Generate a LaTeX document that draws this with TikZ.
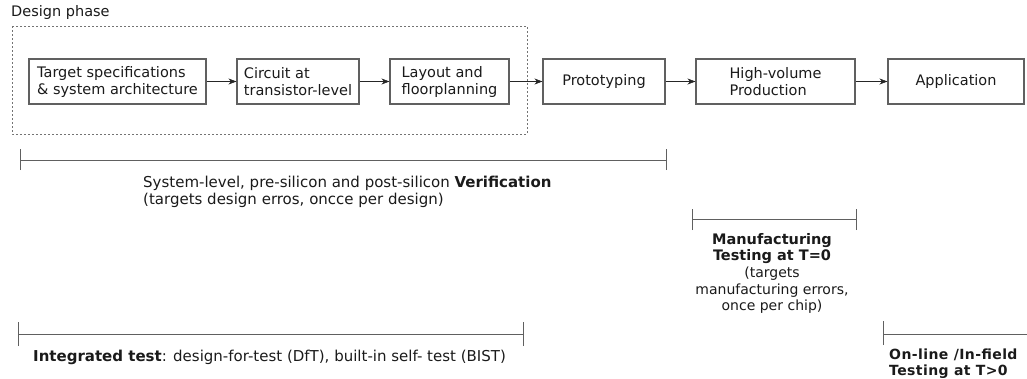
\documentclass[tikz,border=0pt]{standalone}
\usepackage{fontspec}
\setmainfont{DejaVu Sans}
\usetikzlibrary{arrows.meta}
\definecolor{boxline}{HTML}{606060}
\definecolor{txt}{HTML}{1A1A1A}
\tikzset{
  stagebox/.style={draw=boxline, line width=1.1pt, inner sep=0pt, minimum height=45pt, align=left, text=txt,
    font=\fontsize{14.5}{17}\selectfont},
  flow/.style={draw=black!85, line width=0.6pt, -{Stealth[length=8pt,width=6pt]}},
  span/.style={draw=boxline, line width=1pt},
  lbl/.style={inner sep=0pt, text=txt, font=\fontsize{15}{17}\selectfont},
  phase/.style={draw=gray!90!black, line width=0.7pt, dash pattern=on 2.4pt off 1.6pt}
}
\begin{document}
\begin{tikzpicture}[x=1pt,y=-1pt]
\useasboundingbox (0,0) rectangle (1027,378);
% design phase frame
\draw[phase] (12,26) rectangle (527,134);
\node[lbl, anchor=west, font=\fontsize{14.5}{17}\selectfont] (dp) at (11,12) {Design phase};
% stages
\node[stagebox, line width=1.6pt, minimum width=177pt] (t1) at (117.5,81.5) {Target specifications\\\& system architecture};
\node[stagebox, minimum width=122pt] (t2) at (298,81.5) {Circuit at\\transistor-level};
\node[stagebox, minimum width=119pt] (t3) at (449.5,81.5) {Layout and\\floorplanning};
\node[stagebox, minimum width=122pt] (p) at (604,81.5) {Prototyping};
\node[stagebox, minimum width=159pt] (h) at (775.5,81.5) {High-volume\\Production};
\node[stagebox, minimum width=136pt] (a) at (956,81.5) {Application};
\draw[flow] (t1) -- (t2);
\draw[flow] (t2) -- (t3);
\draw[flow] (t3) -- (p);
\draw[flow] (p) -- (h);
\draw[flow] (h) -- (a);
% verification span
\coordinate (v1) at (20,160); \coordinate (v2) at (666,160);
\draw[span] (v1) -- (v2);
\draw[span] ([yshift=-10pt]v1) -- ([yshift=11pt]v1);
\draw[span] ([yshift=-10pt]v2) -- ([yshift=11pt]v2);
\node[lbl, anchor=north west, align=left] (vt) at (143,176) {System-level, pre-silicon and post-silicon \textbf{Verification}\\(targets design erros, oncce per design)};
% manufacturing span
\coordinate (m1) at (692,219); \coordinate (m2) at (856,219);
\draw[span] (m1) -- (m2);
\draw[span] ([yshift=-11pt]m1) -- ([yshift=10pt]m1);
\draw[span] ([yshift=-11pt]m2) -- ([yshift=10pt]m2);
\node[lbl, anchor=north, align=center, font=\fontsize{14}{16.6}\selectfont] (mt) at (772,233)
  {{\fontsize{14.5}{16.6}\selectfont\bfseries Manufacturing}\\{\fontsize{14.5}{16.6}\selectfont\bfseries Testing at T=0}\\(targets\\manufacturing errors,\\once per chip)};
% integrated test span
\coordinate (i1) at (18,334); \coordinate (i2) at (523,334);
\draw[span] (i1) -- (i2);
\draw[span] ([yshift=-12pt]i1) -- ([yshift=12pt]i1);
\draw[span] ([yshift=-12pt]i2) -- ([yshift=12pt]i2);
\node[lbl, anchor=west] (it) at (33,357) {\textbf{Integrated test}: design-for-test (DfT), built-in self- test (BIST)};
% online span
\coordinate (o1) at (883,334); \coordinate (o2) at (1027,334);
\draw[span] (o1) -- (o2);
\draw[span] ([yshift=-11pt]o1) -- ([yshift=13pt]o1);
\node[lbl, anchor=north west, align=left, font=\fontsize{14}{15.5}\selectfont\bfseries\addfontfeature{LetterSpace=3}] (ot) at (889,349) {On-line /In-field\\Testing at T>0};
\end{tikzpicture}
\end{document}
